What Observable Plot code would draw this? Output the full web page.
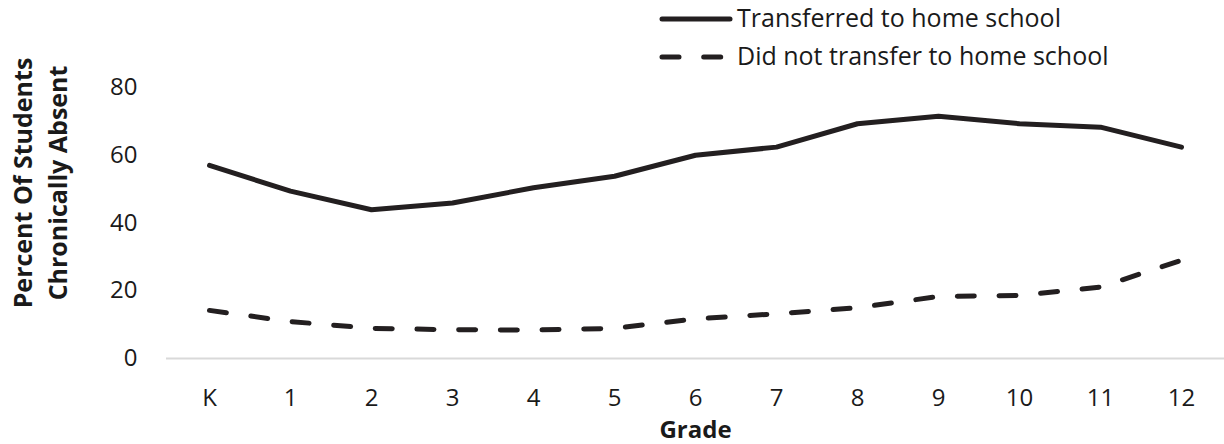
<!DOCTYPE html>
<html><head><meta charset="utf-8">
<script src="https://cdn.jsdelivr.net/npm/d3@7"></script>
<script src="https://cdn.jsdelivr.net/npm/@observablehq/plot@0.6"></script>
<style>
body{margin:0;background:#fff;font-family:"Open Sans",sans-serif;}
#wrap{position:relative;width:1224px;height:444px;}
#legend{position:absolute;left:0;top:0;}
</style></head><body>
<div id="wrap"><div id="chart"></div><svg id="legend" width="1224" height="80"></svg></div>
<script>
const grades = ["K","1","2","3","4","5","6","7","8","9","10","11","12"];
const transferred = [57.0,49.4,43.9,45.9,50.4,53.8,60.0,62.4,69.3,71.5,69.3,68.3,62.4];
const notTransferred = [14.2,10.9,8.9,8.5,8.4,8.9,11.7,13.2,15.0,18.3,18.6,21.1,29.0];
const seriesNames = ["Transferred to home school","Did not transfer to home school"];
const yTicks = [0,20,40,60,80];
const yTitle = "Percent Of Students\nChronically Absent";
const xTitle = "Grade";

const ink = "#231f20";
const dash = "17,24.7";

const rowsA = grades.map((g,i)=>({grade:g, value:transferred[i], series:seriesNames[0]}));
const rowsB = grades.map((g,i)=>({grade:g, value:notTransferred[i], series:seriesNames[1]}));

const chart = Plot.plot({
  width:1224, height:444,
  marginTop:87, marginBottom:86, marginLeft:166, marginRight:0,
  style:{fontFamily:'"Open Sans", sans-serif', fontSize:"24px", color:"#1a1a1a", background:"#fff", overflow:"visible"},
  x:{type:"point", domain:grades, padding:0.5, label:null},
  y:{domain:[0,80], label:null},
  marks:[
    Plot.ruleY([0], {stroke:"#d9d9d9", strokeWidth:2}),
    Plot.axisY({ticks:yTicks, tickSize:0, tickPadding:29, fontSize:24, label:null}),
    Plot.axisX({tickSize:0, tickPadding:30, fontSize:24, label:null}),
    Plot.line(rowsA, {x:"grade", y:"value", stroke:ink, strokeWidth:5, strokeLinejoin:"round", strokeLinecap:"round"}),
    Plot.line(rowsB, {x:"grade", y:"value", stroke:ink, strokeWidth:5, strokeLinejoin:"round", strokeLinecap:"round", strokeDasharray:dash}),
    Plot.text([yTitle], {frameAnchor:"left", textAnchor:"middle", lineAnchor:"middle", rotate:-90, dx:-128, dy:-40, fontWeight:"bold", fontSize:25, lineHeight:1.38, fill:"#1a1a1a"}),
    Plot.text([xTitle], {frameAnchor:"bottom", textAnchor:"middle", lineAnchor:"middle", dy:72, fontWeight:"bold", fontSize:24, fill:"#1a1a1a"})
  ]
});
document.getElementById("chart").appendChild(chart);

// legend
const leg = d3.select("#legend");
const items = [
  {name:seriesNames[0], dash:null, y:19, base:27},
  {name:seriesNames[1], dash:dash, y:57, base:65}
];
items.forEach(it=>{
  leg.append("line").attr("x1",662).attr("x2",730).attr("y1",it.y).attr("y2",it.y)
    .attr("stroke",ink).attr("stroke-width",5).attr("stroke-linecap","round")
    .attr("stroke-dasharray", it.dash);
  leg.append("text").attr("x",737).attr("y",it.base).text(it.name)
    .attr("font-family",'"Open Sans", sans-serif').attr("font-size",25).attr("fill","#1a1a1a");
});
</script>
</body></html>
